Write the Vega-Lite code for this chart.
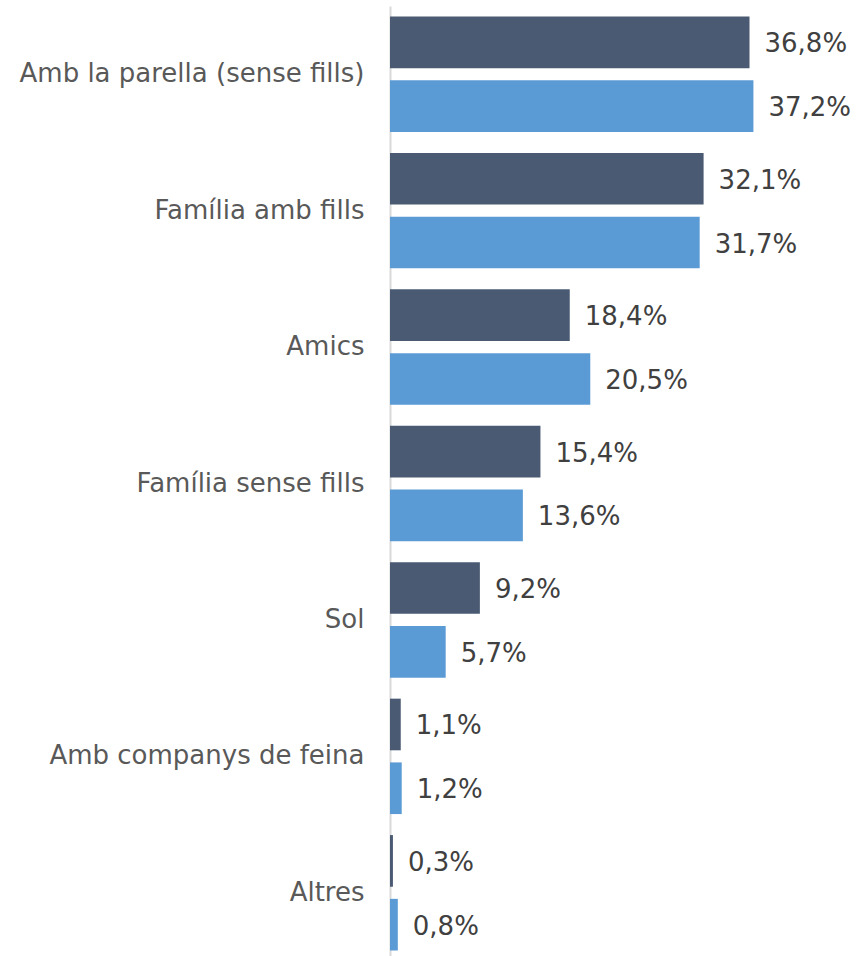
{
  "$schema": "https://vega.github.io/schema/vega-lite/v6.json",
  "width": 466,
  "height": 955,
  "autosize": {"type": "none"},
  "padding": {"left": 390, "top": 6, "right": 0, "bottom": 0},
  "background": "white",
  "config": {"view": {"stroke": null}},
  "data": {
    "values": [
      {"cat": "Amb la parella (sense fills)", "serie": "A", "value": 36.8, "label": "36,8%"},
      {"cat": "Amb la parella (sense fills)", "serie": "B", "value": 37.2, "label": "37,2%"},
      {"cat": "Família amb fills", "serie": "A", "value": 32.1, "label": "32,1%"},
      {"cat": "Família amb fills", "serie": "B", "value": 31.7, "label": "31,7%"},
      {"cat": "Amics", "serie": "A", "value": 18.4, "label": "18,4%"},
      {"cat": "Amics", "serie": "B", "value": 20.5, "label": "20,5%"},
      {"cat": "Família sense fills", "serie": "A", "value": 15.4, "label": "15,4%"},
      {"cat": "Família sense fills", "serie": "B", "value": 13.6, "label": "13,6%"},
      {"cat": "Sol", "serie": "A", "value": 9.2, "label": "9,2%"},
      {"cat": "Sol", "serie": "B", "value": 5.7, "label": "5,7%"},
      {"cat": "Amb companys de feina", "serie": "A", "value": 1.1, "label": "1,1%"},
      {"cat": "Amb companys de feina", "serie": "B", "value": 1.2, "label": "1,2%"},
      {"cat": "Altres", "serie": "A", "value": 0.3, "label": "0,3%"},
      {"cat": "Altres", "serie": "B", "value": 0.8, "label": "0,8%"}
    ]
  },
  "encoding": {
    "y": {
      "field": "cat",
      "type": "nominal",
      "sort": null,
      "scale": {"paddingInner": 0.154, "paddingOuter": 0.077},
      "axis": {
        "title": null,
        "ticks": false,
        "domain": true,
        "domainColor": "#d9d9d9",
        "domainWidth": 2,
        "labelFont": "DejaVu Sans",
        "labelFontSize": 26,
        "labelColor": "#595959",
        "labelPadding": 26,
        "labelLimit": 400
      }
    },
    "yOffset": {
      "field": "serie",
      "type": "nominal",
      "scale": {"paddingInner": 0.19, "paddingOuter": 0}
    },
    "x": {
      "field": "value",
      "type": "quantitative",
      "scale": {"domain": [0, 47.7]},
      "axis": null
    }
  },
  "layer": [
    {
      "mark": {"type": "bar"},
      "encoding": {
        "color": {
          "field": "serie",
          "type": "nominal",
          "scale": {"domain": ["A", "B"], "range": ["#4A5A73", "#5B9BD5"]},
          "legend": null
        }
      }
    },
    {
      "mark": {"type": "text", "align": "left", "baseline": "middle", "dy": 2, "dx": 15, "font": "DejaVu Sans", "fontSize": 26, "color": "#404040"},
      "encoding": {"text": {"field": "label"}}
    }
  ]
}
